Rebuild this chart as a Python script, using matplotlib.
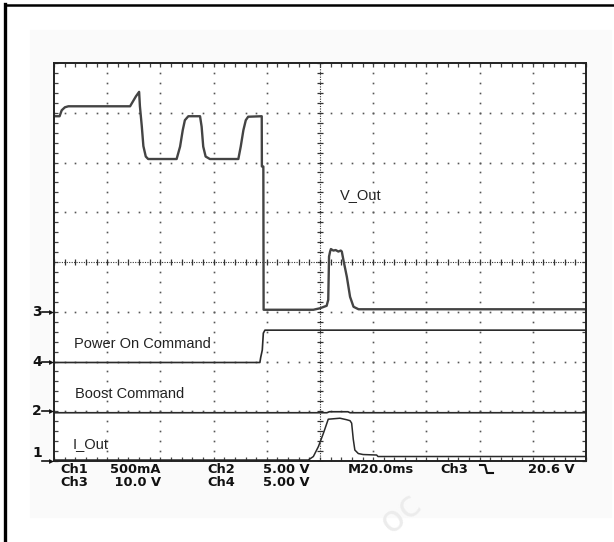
import matplotlib
matplotlib.use("Agg")
import matplotlib.pyplot as plt
import numpy as np
from matplotlib.lines import Line2D
from matplotlib.patches import Rectangle

W, H = 614, 542

# traces: time in ms (20 ms/div), level in divisions (0 = bottom of screen, 8 = top)
vout_t = [0, 2.1, 2.9, 4.1, 5.4, 28.6, 30.8, 32.0, 32.3, 33.0, 33.6, 34.5, 35.4,
          46.1, 47.4, 48.4, 49.2, 50.5, 54.9, 55.5, 56.1, 57.0, 58.6,
          69.3, 70.2, 71.2, 72.1, 73.0, 78.1, 78.15, 78.7, 78.8,
          97.5, 100.0, 102.5, 103.1, 103.4, 103.8, 104.1, 105.0, 105.9, 106.9,
          107.8, 108.2, 108.8, 110.1, 111.3, 112.6, 114.5, 200]
vout_v = [6.93, 6.93, 7.05, 7.11, 7.13, 7.13, 7.33, 7.42, 7.13, 6.73, 6.33, 6.12, 6.07,
          6.07, 6.32, 6.65, 6.85, 6.93, 6.93, 6.72, 6.32, 6.12, 6.07,
          6.07, 6.32, 6.65, 6.85, 6.92, 6.93, 5.92, 5.92, 3.04,
          3.04, 3.07, 3.12, 3.24, 4.11, 4.21, 4.26, 4.23, 4.24, 4.21,
          4.23, 4.21, 4.04, 3.70, 3.30, 3.10, 3.05, 3.05]

pon_t = [0, 77.4, 77.7, 78.3, 78.7, 79.3, 200]
pon_v = [1.98, 1.98, 2.08, 2.23, 2.57, 2.63, 2.63]

boost_t = [0, 102.6, 103.5, 110.5, 111.3, 200]
boost_v = [0.97, 0.97, 0.99, 0.99, 0.97, 0.97]

iout_t = [0, 95.6, 97.5, 99.4, 101.3, 103.1, 107.5, 110.0, 111.3, 111.9, 112.5,
          113.1, 114.4, 116.2, 121.3, 121.8, 200]
iout_v = [0.02, 0.02, 0.09, 0.29, 0.56, 0.84, 0.86, 0.83, 0.81, 0.76, 0.44,
          0.22, 0.15, 0.13, 0.12, 0.09, 0.09]

# ground markers (channel number, level)
markers = [("3", 3.0), ("4", 2.0), ("2", 1.0), ("1", 0.0)]

# trace names and where they sit (time, level)
names = ["V_Out", "Power On Command", "Boost Command", "I_Out"]
name_pos = [(107.5, 5.35), (7.5, 2.35), (7.9, 1.35), (7.1, 0.34)]

# readout under the screen, one text per column (two rows each)
readout = [("Ch1\nCh3", 60), ("500mA\n 10.0 V", 110), ("Ch2\nCh4", 207),
           ("5.00 V\n5.00 V", 263), ("M20.0ms", 348), ("Ch3", 440), ("20.6 V", 528)]


def fx(px):
    return px / W


def fy(py):
    return 1 - py / H


fig = plt.figure(figsize=(W / 100, H / 100), dpi=100)
fig.patch.set_facecolor("white")

# faint grey screenshot background and the cropped outer frame
fig.add_artist(Rectangle((fx(30), fy(517)), fx(611) - fx(30), fy(30) - fy(517),
                         transform=fig.transFigure, color="#fafafa", zorder=0))
fig.add_artist(Line2D([fx(5), fx(5)], [fy(4), fy(542)], transform=fig.transFigure,
                      color="black", lw=2.4))
fig.add_artist(Line2D([fx(5), fx(614)], [fy(5), fy(5)], transform=fig.transFigure,
                      color="black", lw=1.8))

# faint watermark
fig.text(fx(400), fy(512), "oc", fontsize=26, color="#ececec", rotation=40,
         ha="center", va="center", family="DejaVu Sans", zorder=0)

ax = fig.add_axes([fx(54), fy(461), fx(586) - fx(54), fy(63) - fy(461)])
ax.set_facecolor("white")
ax.set_xlim(0, 200)
ax.set_ylim(0, 8)

# graticule dots
ys = np.arange(0, 8.001, 0.2)
xs = np.arange(0, 200.001, 4)
for k in range(1, 10):
    if k == 5:
        continue
    ax.plot(np.full(len(ys), k * 20), ys, ls="none", marker="s", ms=1.2,
            color="#555", mew=0)
for k in range(1, 8):
    if k == 4:
        continue
    ax.plot(xs, np.full(len(xs), k), ls="none", marker="s", ms=1.2,
            color="#555", mew=0)

# centre cross with ticks
ax.plot([0, 200], [4, 4], color="#333", lw=0.8, ls=(0, (1, 1.2)))
ax.plot([100, 100], [0, 8], color="#333", lw=0.8, ls=(0, (1, 1.2)))
ax.plot(xs, np.full(len(xs), 4), ls="none", marker="|", ms=4, color="#333", mew=0.9)
ax.plot(np.full(len(ys), 100), ys, ls="none", marker="_", ms=4.5, color="#333", mew=0.9)

# edge ticks
ax.set_xticks(np.arange(0, 201, 20))
ax.set_xticks(np.arange(0, 201, 4), minor=True)
ax.set_yticks(np.arange(0, 9, 1))
ax.set_yticks(np.arange(0, 8.01, 0.2), minor=True)
ax.tick_params(which="both", direction="in", length=3, width=0.9, color="#444",
               top=True, right=True, labelbottom=False, labelleft=False)
for s in ax.spines.values():
    s.set_linewidth(1.4)
    s.set_color("#222")

# traces
ax.plot(vout_t, vout_v, color="#444", lw=1.7, solid_joinstyle="round")
ax.plot(pon_t, pon_v, color="#2a2a2a", lw=1.2)
ax.plot(boost_t, boost_v, color="#2a2a2a", lw=1.2)
ax.plot(iout_t, iout_v, color="#2a2a2a", lw=1.1)

for name, (t, lv) in zip(names, name_pos):
    ax.text(t, lv, name, fontsize=10.5, family="Liberation Sans", color="#222",
            ha="left", va="center")

# ground markers on the left
for ch, lv in markers:
    py = 461 - lv * 49.75
    ty = py - 8 if lv == 0 else py
    fig.text(fx(37), fy(ty), ch, fontsize=10, fontweight="bold", color="#111",
             ha="center", va="center", family="DejaVu Sans")
    fig.add_artist(Line2D([fx(42), fx(50)], [fy(py), fy(py)], transform=fig.transFigure,
                          color="#111", lw=1.2))
    fig.add_artist(Line2D([fx(51)], [fy(py)], transform=fig.transFigure, ls="none",
                          marker=">", ms=3.5, color="#111", mew=0))

# readout text
for txt, px in readout:
    fig.text(fx(px), fy(463), txt, fontsize=9.4, color="#111", ha="left", va="top",
             family="DejaVu Sans", fontweight="bold", linespacing=0.98)

# trigger slope symbol
fig.add_artist(Line2D([fx(480), fx(485), fx(487), fx(493)],
                      [fy(465), fy(465), fy(473), fy(473)],
                      transform=fig.transFigure, color="#111", lw=1.5))

fig.savefig("out.png", dpi=100)
